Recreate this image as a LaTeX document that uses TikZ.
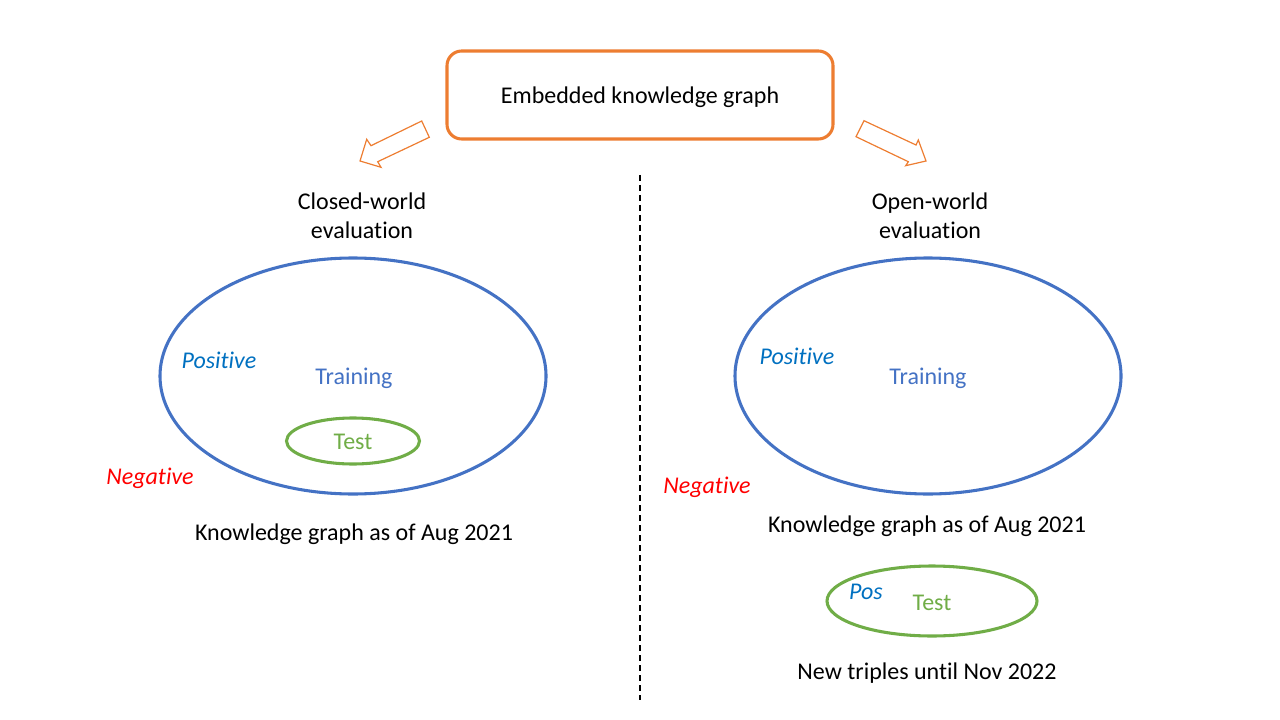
\documentclass[tikz,border=0pt]{standalone}
\usepackage{fontspec}
\setmainfont{Carlito}[Ligatures=NoCommon]
\definecolor{orng}{RGB}{237,125,49}
\definecolor{blu}{RGB}{68,114,196}
\definecolor{posblue}{RGB}{0,112,192}
\definecolor{grn}{RGB}{112,173,71}
\definecolor{negred}{RGB}{255,0,0}
\begin{document}
\begin{tikzpicture}[x=0.75pt,y=-0.75pt,
  txt/.style={font=\fontsize{18}{22}\selectfont, text=black, inner sep=0pt, align=center},
  postxt/.style={font=\fontsize{18}{22}\selectfont\itshape, text=posblue, inner sep=0pt},
  negtxt/.style={font=\fontsize{18}{22}\selectfont\itshape, text=negred, inner sep=0pt},
  trntxt/.style={font=\fontsize{18}{22}\selectfont, text=blu, inner sep=0pt},
  tsttxt/.style={font=\fontsize{18}{22}\selectfont, text=grn, inner sep=0pt},
  bigell/.style={draw=blu, line width=2.3pt},
  testell/.style={draw=grn, line width=2.3pt},
  blockarrow/.style={draw=orng, line width=0.9pt, line join=miter}]
\useasboundingbox (0,0) rectangle (1280,720);
% top box
\node[draw=orng, line width=2.3pt, rounded corners=11pt, minimum width=386*0.75pt, minimum height=88*0.75pt] (top) at (640,95) {};
\node[txt] (toptxt) at (640,97) {Embedded knowledge graph};
% block arrows
\draw[blockarrow] (421.7,121) -- (429.3,137.3) -- (377.7,161.7) -- (381,167.3) -- (360,161) -- (366.7,139.3) -- (371,145.7) -- cycle;
\draw[blockarrow] (864,120.7) -- (856,136.7) -- (908.3,161.7) -- (905.7,165.7) -- (926,161) -- (918.3,140) -- (916,145) -- cycle;
% divider
\coordinate (d1) at (640,175);
\coordinate (d2) at (640,700);
\draw[line width=0.9pt, dash pattern=on 4.5pt off 3pt] (d1) -- (d2);
% headings
\node[txt] (cw) at (362,216) {Closed-world\\evaluation};
\node[txt] (ow) at (930,216) {Open-world\\evaluation};
% left side
\draw[bigell] (353,376) ellipse [x radius=193, y radius=118];
\node[postxt] (lpos) at (219,360) {Positive};
\node[trntxt] (ltrn) at (354,378) {Training};
\draw[testell] (353,441) ellipse [x radius=66.5, y radius=23];
\node[tsttxt] (ltst) at (353,442) {Test};
\node[negtxt] (lneg) at (150,478) {Negative};
\node[txt] (lkg) at (354,534) {Knowledge graph as of Aug 2021};
% right side
\draw[bigell] (928,376) ellipse [x radius=193, y radius=118];
\node[postxt] (rpos) at (797,356) {Positive};
\node[trntxt] (rtrn) at (928,378) {Training};
\node[negtxt] (rneg) at (707,487) {Negative};
\node[txt] (rkg) at (927,526) {Knowledge graph as of Aug 2021};
\draw[testell] (932,601) ellipse [x radius=105, y radius=35];
\node[postxt] (rposs) at (866,592) {Pos};
\node[tsttxt] (rtst) at (932,603) {Test};
\node[txt] (new) at (927,673) {New triples until Nov 2022};
\end{tikzpicture}
\end{document}
